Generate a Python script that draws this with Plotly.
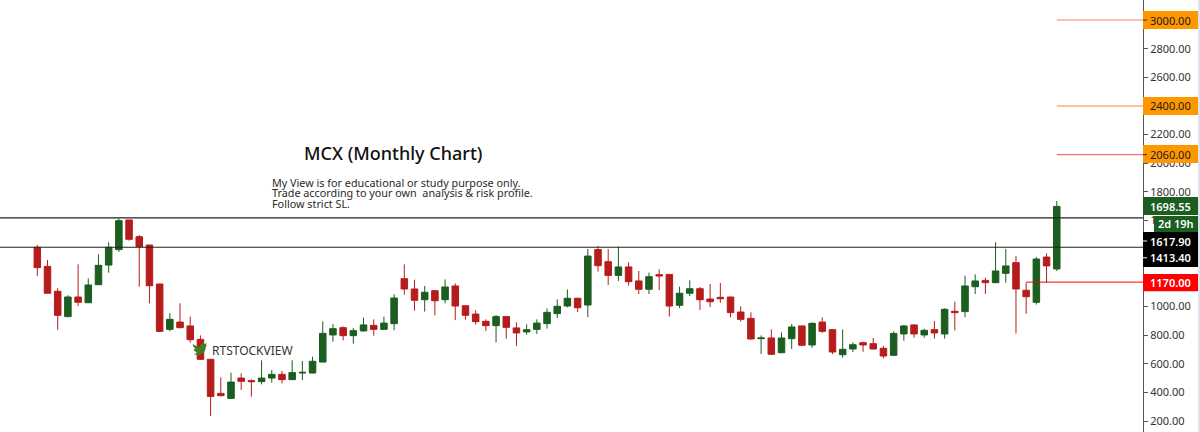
import plotly.graph_objects as go

opens = [1413,1280,1106,929,1066,1026,1152,1289,1397,1604,1487,1429,1157,840,891,864,770,631,393,358,500,482,475,500,526,489,
         535,535,612,801,852,796,829,868,840,880,1194,1122,1047,1110,1047,1143,1005,947,896,866,929,850,822,840,880,950,1003,1057,1010,1397,
         1313,1217,1276,1178,1120,1222,1224,1008,1092,1124,1052,1064,1066,961,917,775,780,677,775,864,731,891,838,663,703,747,740,
         708,659,808,871,801,838,808,966,964,1138,1182,1166,1231,1306,1113,1029,1345,1262]
highs = [1429,1324,1127,1078,1294,1196,1364,1448,1615,1604,1499,1429,1157,952,1022,929,798,631,505,538,533,491,624,556,549,624,
         619,649,896,877,861,850,922,910,929,1085,1294,1187,1143,1115,1189,1161,1008,973,910,940,933,889,875,910,987,1050,1119,1061,1401,1422,
         1401,1418,1308,1248,1236,1259,1224,1138,1182,1136,1157,1164,1066,1001,959,798,840,819,877,866,889,924,843,840,749,754,780,
         724,826,871,875,845,898,987,1033,1215,1224,1201,1448,1401,1352,1166,1345,1371,1736]
lows = [1213,1090,836,925,1003,1024,1150,1236,1380,1459,1138,1022,822,826,847,747,628,235,372,356,417,370,456,468,463,487,
        486,533,610,754,763,740,824,796,838,833,1082,971,964,938,1022,905,908,873,829,749,775,724,803,808,845,919,994,961,924,1243,
        1150,1178,1145,1087,1087,1113,929,989,1073,975,996,1026,924,894,768,668,661,673,703,722,710,815,668,642,682,684,698,
        638,657,761,782,782,775,775,833,924,1087,1087,1164,1166,812,950,1013,1166,1248]
closes = [1271,1092,938,1066,1029,1150,1287,1413,1599,1469,1418,1145,826,910,852,768,631,372,377,472,477,475,500,526,489,538,
          540,617,812,845,796,831,871,840,884,1059,1122,1043,1099,1040,1136,1003,938,894,866,929,854,815,838,884,959,1001,1057,991,1352,1285,
          1217,1276,1173,1120,1208,1213,1003,1092,1124,1047,1033,1054,957,910,773,780,666,780,857,729,882,826,682,701,733,731,703,
          654,812,864,808,833,815,980,957,1143,1178,1166,1248,1283,1122,1068,1331,1283,1698.55]

X_LEFT = -3.66
X_RIGHT = 108.46
Y_LOW = 123.3
Y_HIGH = 3140
tick_values = [200,400,600,800,1000,1200,1400,1600,1800,2000,2200,2400,2600,2800,3000]
hidden_ticks = [1200, 1400]
resistance_levels = [1617.90, 1413.40]
target_levels = [3000, 2400, 2060]
target_colors = ["#f77f7f", "#f98a3c", "#f77070"]
stop_level = 1170
UP = "#1b5e20"
DOWN = "#b71c1c"
ORANGE = "#ff9800"
FONT = "Noto Sans"
BADGE_L = 1.0
BADGE_R = 1.04812
BADGE_MID = 1.0240

fig = go.Figure(go.Candlestick(
    x=list(range(len(opens))), open=opens, high=highs, low=lows, close=closes,
    increasing=dict(line=dict(color=UP, width=1), fillcolor=UP),
    decreasing=dict(line=dict(color=DOWN, width=1), fillcolor=DOWN),
    whiskerwidth=0, showlegend=False,
))

shapes = []
annotations = []

def box(y0, y1, bg, x0=BADGE_L):
    shapes.append(dict(type="rect", xref="paper", yref="y", x0=x0, x1=BADGE_R, y0=y0, y1=y1,
                       fillcolor=bg, line=dict(width=0), layer="above"))

def label(y, text, fg, x=BADGE_MID, bold=False):
    annotations.append(dict(xref="paper", yref="y", x=x, y=y, xanchor="center", yanchor="middle",
                            text=text, showarrow=False,
                            font=dict(family=FONT, size=11, color=fg, weight=600 if bold else 400)))

def tick(y, color):
    shapes.append(dict(type="line", xref="paper", yref="y", x0=1.0, x1=1.0035, y0=y, y1=y,
                       line=dict(color=color, width=1), layer="above"))

for lv in resistance_levels:
    shapes.append(dict(type="line", xref="x", yref="y", x0=X_LEFT, x1=X_RIGHT, y0=lv, y1=lv,
                       line=dict(color="#222222", width=1.2)))
for lv, c in zip(target_levels, target_colors):
    shapes.append(dict(type="line", xref="x", yref="y", x0=100, x1=X_RIGHT, y0=lv, y1=lv,
                       line=dict(color=c, width=1.1)))
shapes.append(dict(type="line", xref="x", yref="y", x0=97, x1=X_RIGHT, y0=stop_level, y1=stop_level,
                   line=dict(color="#ff0000", width=1)))
# narrow strip at the far right of the page
shapes.append(dict(type="rect", xref="paper", yref="paper", x0=BADGE_R, x1=1.0499, y0=0, y1=1,
                   fillcolor="#dfe3ee", line=dict(width=0)))
# bird watermark
shapes.append(dict(type="path", xref="x", yref="y", xsizemode="pixel", ysizemode="pixel",
                   xanchor=15.94, yanchor=703,
                   path="M -7 5 C -4 3 -2 2 0 2 C 0 5 3 7 5 5 L 7 6 L 6 4 L 7 4 L 6 2 C 6 -2 2 -7 -3 -6 L -6 -5 C -4 -5 -3 -4 -3 -3 C -5 -3 -6 -1 -6 0 L -4 0 C -6 1 -7 3 -7 5 Z",
                   fillcolor="#3f7d20", line=dict(width=0), layer="above"))

box(3063, 2937, ORANGE); tick(3000, "#333333"); label(3000, "3000.00", "#1a1a1a")
box(2463, 2337, ORANGE); label(2400, "2400.00", "#1a1a1a")
box(2127, 2002, ORANGE); tick(2060, "#333333"); label(2060, "2060.00", "#1a1a1a")
box(1764, 1639, UP); label(1701, "1698.55", "#ffffff", bold=True)
box(1632, 1520, UP, x0=1.0096); label(1576, "2d 19h", "#ffffff", x=1.0289, bold=True)
box(1520, 1276, "#000000")
tick(1457, "#ffffff"); label(1457, "1617.90", "#ffffff", bold=True)
tick(1340, "#ffffff"); label(1340, "1413.40", "#ffffff", bold=True)
box(1227, 1106, "#ff0000"); label(1170, "1170.00", "#ffffff", bold=True)

annotations.append(dict(xref="x", yref="y", x=34.85, y=2072, text="MCX (Monthly Chart)", showarrow=False,
                        font=dict(family=FONT, size=18, color="#111111", weight=500),
                        xanchor="center", yanchor="middle"))
note_lines = ["My View is for educational or study purpose only.",
              "Trade according to your own  analysis &amp; risk profile.",
              "Follow strict SL."]
note_levels = [1866, 1793, 1719]
for line, lv in zip(note_lines, note_levels):
    annotations.append(dict(xref="x", yref="y", x=22.85, y=lv, text=line, showarrow=False,
                            font=dict(family=FONT, size=10.8, color="#2a2a2a"),
                            xanchor="left", yanchor="middle"))
annotations.append(dict(xref="x", yref="y", x=16.95, y=689, text="RTSTOCKVIEW", showarrow=False,
                        font=dict(family=FONT, size=12, color="#333333"), xanchor="left", yanchor="middle"))

fig.update_layout(
    width=1200, height=432, margin=dict(l=0, r=57, t=0, b=0),
    paper_bgcolor="#ffffff", plot_bgcolor="#ffffff",
    shapes=shapes, annotations=annotations, boxgap=0.36, boxgroupgap=0,
    font=dict(family=FONT, size=11, color="#333333"),
    xaxis=dict(range=[X_LEFT, X_RIGHT], visible=False, rangeslider=dict(visible=False), showgrid=False),
    yaxis=dict(range=[Y_LOW, Y_HIGH], side="right", tickvals=tick_values,
               ticktext=["" if v in hidden_ticks else f"{v}.00" for v in tick_values],
               ticks="outside", ticklen=4, tickcolor="#555555",
               showgrid=False, zeroline=False, showline=True, linecolor="#555555", linewidth=1,
               tickfont=dict(family=FONT, size=11, color="#333333"), automargin=False),
)
fig.write_html("out.html", config=dict(displayModeBar=False), post_script="document.body.style.margin='0';")
